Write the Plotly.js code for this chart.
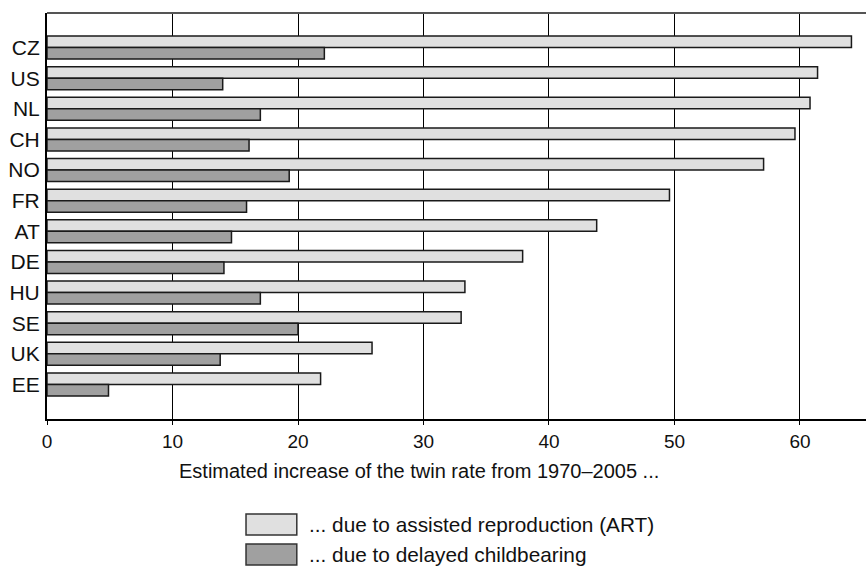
<!DOCTYPE html>
<html>
<head>
<meta charset="utf-8">
<script src="https://cdn.plot.ly/plotly-3.0.1.min.js"></script>
<style>
  body { margin: 0; background: #fff; }
  #chart { width: 866px; height: 566px; }
</style>
</head>
<body>
<div id="chart"></div>
<script>
const countries = ['CZ', 'US', 'NL', 'CH', 'NO', 'FR', 'AT', 'DE', 'HU', 'SE', 'UK', 'EE'];
const artValues = [64.1, 61.4, 60.8, 59.6, 57.1, 49.6, 43.8, 37.9, 33.3, 33.0, 25.9, 21.8];
const delayedValues = [22.1, 14.0, 17.0, 16.1, 19.3, 15.9, 14.7, 14.1, 17.0, 20.0, 13.8, 4.9];
const seriesNames = ['... due to assisted reproduction (ART)', '... due to delayed childbearing'];
const seriesColors = ['#e0e0e0', '#a0a0a0'];
const xTicks = [0, 10, 20, 30, 40, 50, 60];
const xTitle = 'Estimated increase of the twin rate from 1970–2005 ...';

const font = 'Liberation Sans, Arial, sans-serif';

const traces = [artValues, delayedValues].map((vals, i) => ({
    type: 'bar',
    orientation: 'h',
    x: vals,
    y: countries,
    name: seriesNames[i],
    marker: {color: seriesColors[i], line: {color: '#1a1a1a', width: 1.5}},
    hoverinfo: 'x+y'
}));

// hand-drawn legend below the plot
const shapes = [];
const annotations = [];
seriesNames.forEach((name, i) => {
    const top = -0.234 - i * 0.0739;
    shapes.push({
        type: 'rect', xref: 'paper', yref: 'paper',
        x0: 0.243, x1: 0.305, y0: top - 0.0517, y1: top,
        fillcolor: seriesColors[i], line: {color: '#333', width: 1.5}
    });
    annotations.push({
        xref: 'paper', yref: 'paper', x: 0.3175, y: top - 0.026,
        xanchor: 'left', yanchor: 'middle', showarrow: false,
        text: name, font: {family: font, size: 20.8, color: '#111'}
    });
});
// x axis title, sits a bit left of the plot centre
annotations.push({
    xref: 'paper', yref: 'paper', x: 0.454, y: -0.1293,
    xanchor: 'center', yanchor: 'middle', showarrow: false,
    text: xTitle, font: {family: font, size: 20, color: '#111'}
});
// top border
shapes.push({
    type: 'line', xref: 'paper', yref: 'paper', x0: 0, x1: 1, y0: 1, y1: 1,
    line: {color: '#555', width: 2}
});

const layout = {
    width: 866,
    height: 566,
    margin: {l: 47, r: 0, t: 13, b: 147},
    paper_bgcolor: '#fff',
    plot_bgcolor: '#fff',
    showlegend: false,
    barmode: 'group',
    bargap: 0.25,
    bargroupgap: 0,
    font: {family: font, size: 19, color: '#111'},
    xaxis: {
        range: [0, 65.26],
        tickvals: xTicks,
        showgrid: true,
        gridcolor: '#000',
        gridwidth: 1,
        showline: true,
        linecolor: '#000',
        linewidth: 2,
        zeroline: false,
        ticks: 'outside',
        ticklen: 4,
        tickcolor: '#000',
        tickfont: {size: 19},
        automargin: false
    },
    yaxis: {
        type: 'category',
        categoryarray: countries,
        range: [12.13, -1.13],
        showgrid: false,
        showline: true,
        linecolor: '#000',
        linewidth: 2,
        zeroline: false,
        ticks: '',
        ticklabelstandoff: 1,
        tickfont: {size: 21},
        automargin: false
    },
    shapes: shapes,
    annotations: annotations
};

Plotly.newPlot('chart', traces, layout, {displayModeBar: false, staticPlot: true});
</script>
</body>
</html>
